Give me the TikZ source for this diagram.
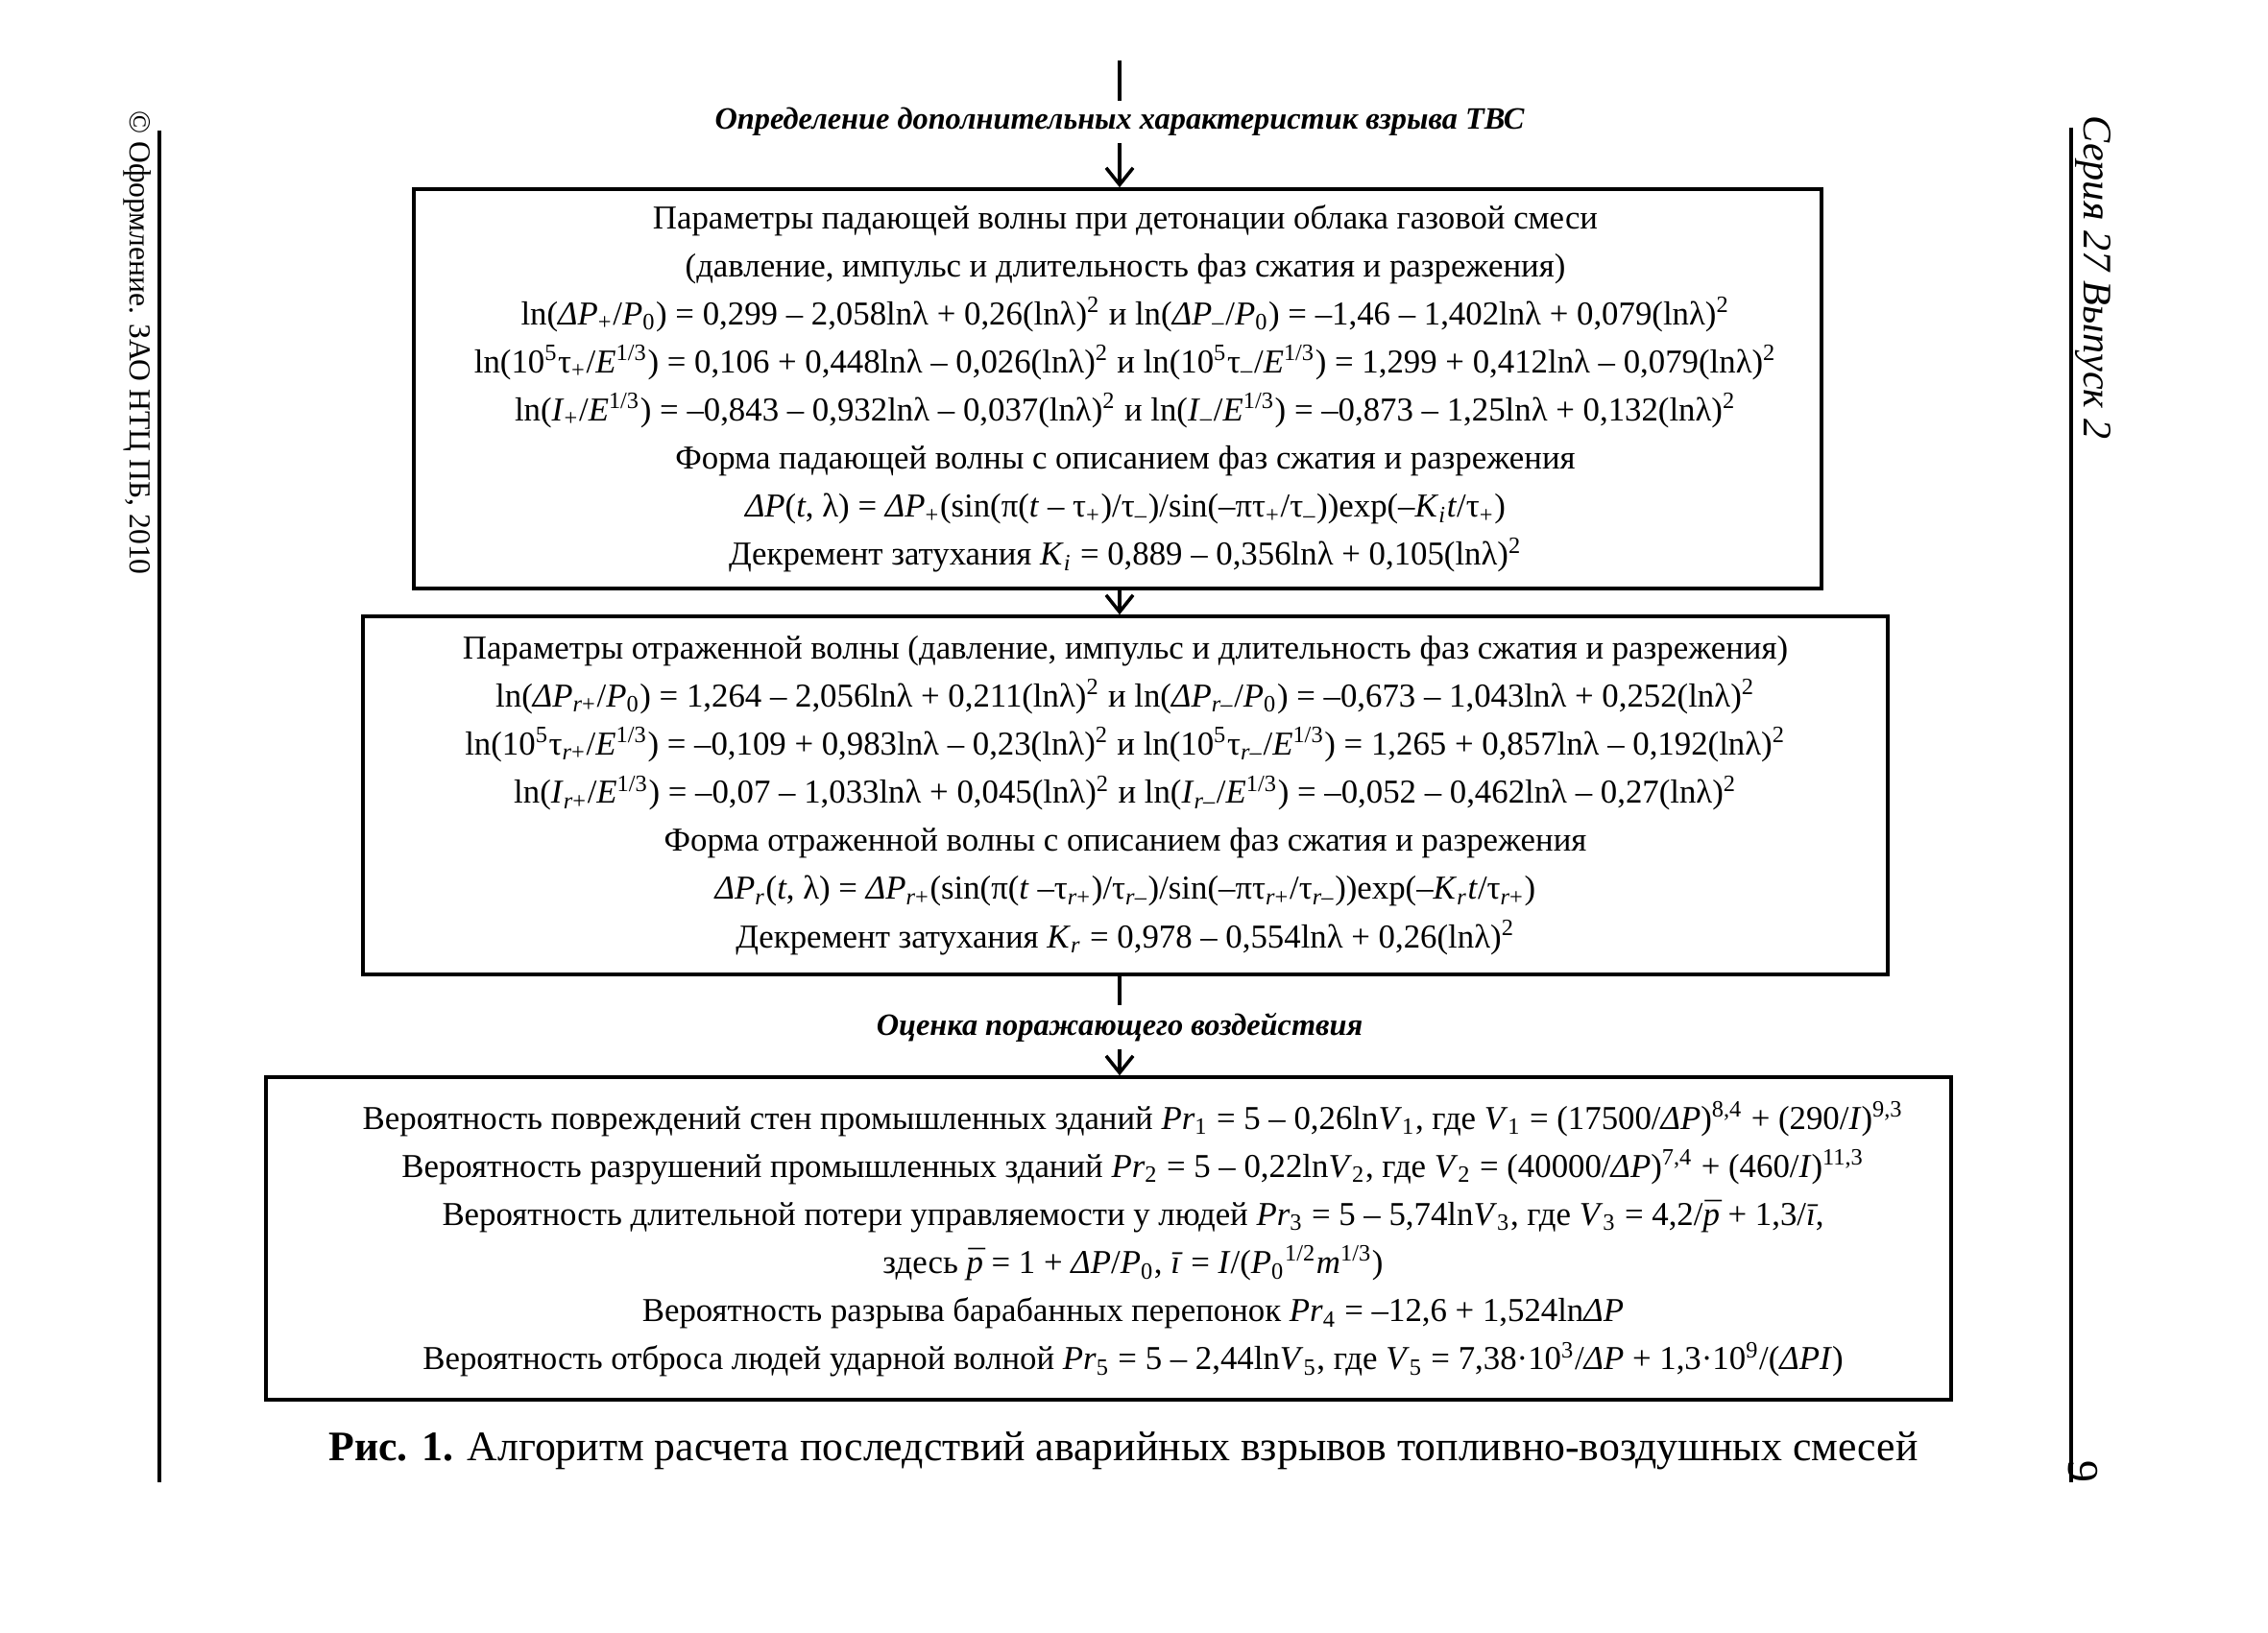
\documentclass[tikz,border=0pt]{standalone}
\usepackage{fontspec}
\setmainfont{Liberation Serif}
\usepackage{tikz}
\usetikzlibrary{arrows.meta,positioning,calc}

\newcommand{\dn}[1]{\textsubscript{#1}}
\newcommand{\hi}[1]{\textsuperscript{#1}}
\newcommand{\barred}[1]{\ooalign{\textit{#1}\cr\hidewidth\kern0.12em¯\hidewidth\cr}}
\newcommand{\boxfont}{\fontsize{9.9}{14.25}\selectfont}

\begin{document}
\begin{tikzpicture}[
  box/.style={draw, line width=1pt, inner sep=0pt},
  boxtext/.style={align=center, font=\boxfont, inner sep=0pt},
  stage/.style={font=\fontsize{9.2}{11}\selectfont\bfseries\itshape, inner sep=2pt},
  link/.style={line width=1pt},
  flow/.style={line width=1pt, -{Straight Barb[length=5pt,width=8pt]}}
]
\useasboundingbox (0,0) rectangle (23.62,17.01);

% margins of the page
\draw[line width=1pt] (1.66,15.65) -- (1.66,1.57);
\draw[line width=1pt] (21.57,15.68) -- (21.57,1.57);
\node[rotate=-90, font=\fontsize{9}{10}\selectfont] (copyright) at (1.43,13.44) {© Оформление. ЗАО НТЦ ПБ, 2010};
\node[rotate=-90, font=\fontsize{12}{14}\selectfont\itshape] (series) at (21.80,14.12) {Серия 27 Выпуск 2};
\node[rotate=-90, font=\fontsize{13}{15}\selectfont] (page) at (21.69,1.68) {9};

% stages
\coordinate (top) at (11.66,16.38);
\node[stage] (stage1) at (11.66,15.74) {Определение дополнительных характеристик взрыва ТВС};
\node[stage] (stage2) at (11.66,6.31) {Оценка поражающего воздействия};

% incident wave
\node[box, minimum width=14.66cm, minimum height=4.16cm] (box1) at (11.64,12.96) {};
\node[boxtext] (text1) at (11.72,12.96) {%
  Параметры падающей волны при детонации облака газовой смеси\\
  (давление, импульс и длительность фаз сжатия и разрежения)\\
  ln(\textit{ΔP}\dn{+}/\textit{P}\dn{0}) = 0,299 – 2,058lnλ + 0,26(lnλ)\hi{2} и ln(\textit{ΔP}\dn{–}/\textit{P}\dn{0}) = –1,46 – 1,402lnλ + 0,079(lnλ)\hi{2}\\
  ln(10\hi{5}τ\dn{+}/\textit{E}\hi{1/3}) = 0,106 + 0,448lnλ – 0,026(lnλ)\hi{2} и ln(10\hi{5}τ\dn{–}/\textit{E}\hi{1/3}) = 1,299 + 0,412lnλ – 0,079(lnλ)\hi{2}\\
  ln(\textit{I}\dn{+}/\textit{E}\hi{1/3}) = –0,843 – 0,932lnλ – 0,037(lnλ)\hi{2} и ln(\textit{I}\dn{–}/\textit{E}\hi{1/3}) = –0,873 – 1,25lnλ + 0,132(lnλ)\hi{2}\\
  Форма падающей волны с описанием фаз сжатия и разрежения\\
  \textit{ΔP}(\textit{t}, λ) = \textit{ΔP}\dn{+}(sin(π(\textit{t} – τ\dn{+})/τ\dn{–})/sin(–πτ\dn{+}/τ\dn{–}))exp(–\textit{K}\dn{\textit{i}}\textit{t}/τ\dn{+})\\
  Декремент затухания \textit{K}\dn{\textit{i}} = 0,889 – 0,356lnλ + 0,105(lnλ)\hi{2}};

% reflected wave
\node[box, minimum width=15.88cm, minimum height=3.73cm] (box2) at (11.72,8.725) {};
\node[boxtext] (text2) at (11.72,8.725) {%
  Параметры отраженной волны (давление, импульс и длительность фаз сжатия и разрежения)\\
  ln(\textit{ΔP}\dn{\textit{r}+}/\textit{P}\dn{0}) = 1,264 – 2,056lnλ + 0,211(lnλ)\hi{2} и ln(\textit{ΔP}\dn{\textit{r}–}/\textit{P}\dn{0}) = –0,673 – 1,043lnλ + 0,252(lnλ)\hi{2}\\
  ln(10\hi{5}τ\dn{\textit{r}+}/\textit{E}\hi{1/3}) = –0,109 + 0,983lnλ – 0,23(lnλ)\hi{2} и ln(10\hi{5}τ\dn{\textit{r}–}/\textit{E}\hi{1/3}) = 1,265 + 0,857lnλ – 0,192(lnλ)\hi{2}\\
  ln(\textit{I}\dn{\textit{r}+}/\textit{E}\hi{1/3}) = –0,07 – 1,033lnλ + 0,045(lnλ)\hi{2} и ln(\textit{I}\dn{\textit{r}–}/\textit{E}\hi{1/3}) = –0,052 – 0,462lnλ – 0,27(lnλ)\hi{2}\\
  Форма отраженной волны с описанием фаз сжатия и разрежения\\
  \textit{ΔP}\dn{\textit{r}}(\textit{t}, λ) = \textit{ΔP}\dn{\textit{r}+}(sin(π(\textit{t} –τ\dn{\textit{r}+})/τ\dn{\textit{r}–})/sin(–πτ\dn{\textit{r}+}/τ\dn{\textit{r}–}))exp(–\textit{K}\dn{\textit{r}}\textit{t}/τ\dn{\textit{r}+})\\
  Декремент затухания \textit{K}\dn{\textit{r}} = 0,978 – 0,554lnλ + 0,26(lnλ)\hi{2}};

% damage estimates
\node[box, minimum width=17.55cm, minimum height=3.36cm] (box3) at (11.545,4.11) {};
\node[boxtext] (text3) at (11.80,4.10) {%
  Вероятность повреждений стен промышленных зданий \textit{Pr}\dn{1} = 5 – 0,26ln\textit{V}\dn{1}, где \textit{V}\dn{1} = (17500/\textit{ΔP})\hi{8,4} + (290/\textit{I})\hi{9,3}\\
  Вероятность разрушений промышленных зданий \textit{Pr}\dn{2} = 5 – 0,22ln\textit{V}\dn{2}, где \textit{V}\dn{2} = (40000/\textit{ΔP})\hi{7,4} + (460/\textit{I})\hi{11,3}\\
  Вероятность длительной потери управляемости у людей \textit{Pr}\dn{3} = 5 – 5,74ln\textit{V}\dn{3}, где \textit{V}\dn{3} = 4,2/\barred{p} + 1,3/\textit{ī},\\
  здесь \barred{p} = 1 + \textit{ΔP}/\textit{P}\dn{0}, \textit{ī} = \textit{I}/(\textit{P}\dn{0}\hi{1/2}\textit{m}\hi{1/3})\\
  Вероятность разрыва барабанных перепонок \textit{Pr}\dn{4} = –12,6 + 1,524ln\textit{ΔP}\\
  Вероятность отброса людей ударной волной \textit{Pr}\dn{5} = 5 – 2,44ln\textit{V}\dn{5}, где \textit{V}\dn{5} = 7,38·10\hi{3}/\textit{ΔP} + 1,3·10\hi{9}/(\textit{ΔPI})};

% connectors
\draw[link] (top) -- (stage1);
\draw[flow] (stage1) -- (stage1 |- box1.north);
\draw[flow] (box1.south -| stage1) -- (box2.north -| stage1);
\draw[link] (box2.south -| stage2) -- (stage2);
\draw[flow] (stage2) -- (stage2 |- box3.north);

\node (caption) at (11.70,1.90) {\fontsize{12.45}{15}\selectfont\textbf{Рис. 1.} Алгоритм расчета последствий аварийных взрывов топливно-воздушных смесей};
\end{tikzpicture}
\end{document}
